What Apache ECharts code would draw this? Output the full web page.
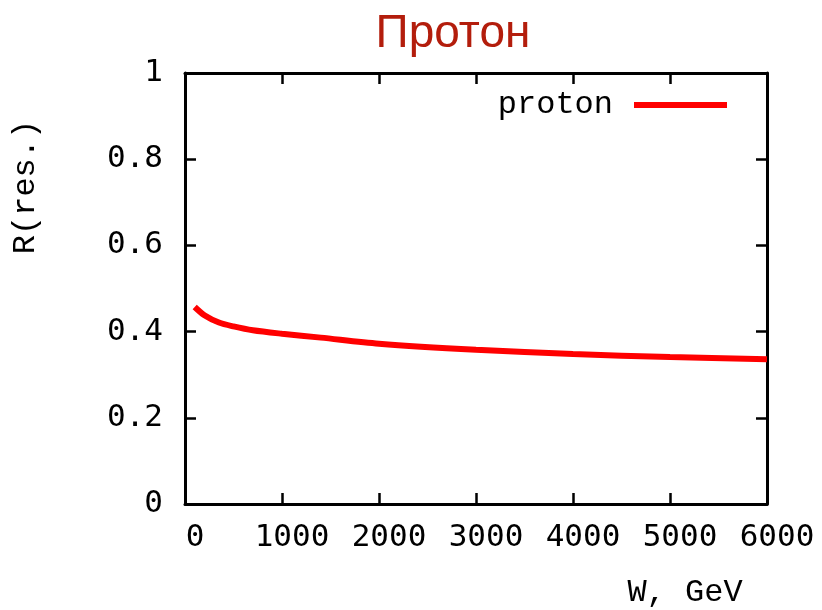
<!DOCTYPE html>
<html>
<head>
<meta charset="utf-8">
<script src="https://cdn.jsdelivr.net/npm/echarts@6/dist/echarts.min.js"></script>
<style>
  html, body { margin: 0; padding: 0; background: #fff; }
  #chart { width: 822px; height: 610px; }
</style>
</head>
<body>
<div id="chart"></div>
<script>
// W, GeV
const energies = [100, 200, 350, 500, 700, 1000, 1400, 2000, 3000, 4000, 5000, 6000]
// R(res.) for proton
const protonR = [0.457, 0.438, 0.421, 0.412, 0.403, 0.395, 0.386, 0.372, 0.358, 0.348, 0.341, 0.336]
const xTicks = [0, 1000, 2000, 3000, 4000, 5000, 6000]
const yTicks = [0, 0.2, 0.4, 0.6, 0.8, 1]

const myChart = echarts.init(document.getElementById('chart'))

const tickFont = 'DejaVu Sans Mono'
const textFont = 'Liberation Mono'

const axisCommon = {
  axisLine: { show: true, onZero: false, lineStyle: { color: '#000', width: 3 } },
  axisTick: { show: true, inside: true, length: 11, lineStyle: { color: '#000', width: 2.5 } },
  splitLine: { show: false }
}

const option = {
  backgroundColor: '#fff',
  animation: false,
  title: {
    text: 'Протон',
    left: 448,
    top: 6,
    textAlign: 'center',
    textStyle: {
      fontFamily: 'Liberation Sans',
      fontWeight: 'normal',
      fontSize: 46,
      color: '#b31d0c'
    }
  },
  legend: {
    right: 90,
    top: 84,
    align: 'right',
    icon: 'rect',
    itemWidth: 93,
    itemHeight: 6,
    textStyle: {
      fontFamily: textFont,
      fontSize: 32,
      color: '#000',
      padding: [0, 16, 0, 0]
    },
    data: ['proton']
  },
  grid: {
    left: 185,
    right: 55,
    top: 73,
    bottom: 106
  },
  xAxis: [
    Object.assign({
      type: 'value',
      position: 'bottom',
      min: 0,
      max: 6000,
      interval: 1000,
      axisLabel: {
        margin: 18,
        padding: [0, 0, 0, 20],
        fontFamily: tickFont,
        fontSize: 31,
        color: '#000',
        formatter: v => xTicks.includes(v) ? String(v) : ''
      }
    }, axisCommon),
    Object.assign({
      type: 'value',
      position: 'top',
      min: 0,
      max: 6000,
      interval: 1000,
      axisLabel: { show: false }
    }, axisCommon)
  ],
  yAxis: [
    Object.assign({
      type: 'value',
      position: 'left',
      min: 0,
      max: 1,
      interval: 0.2,
      axisLabel: {
        margin: 22,
        fontFamily: tickFont,
        fontSize: 31,
        color: '#000',
        formatter: v => {
          const t = yTicks.find(y => Math.abs(y - v) < 1e-9)
          return t === undefined ? '' : String(t)
        }
      }
    }, axisCommon),
    Object.assign({
      type: 'value',
      position: 'right',
      min: 0,
      max: 1,
      interval: 0.2,
      axisLabel: { show: false }
    }, axisCommon)
  ],
  graphic: [
    {
      type: 'text',
      x: 26,
      y: 187,
      rotation: Math.PI / 2,
      style: {
        text: 'R(res.)',
        fontFamily: textFont,
        fontSize: 32,
        fill: '#000',
        align: 'center',
        verticalAlign: 'middle'
      }
    },
    {
      type: 'text',
      x: 685,
      y: 593,
      style: {
        text: 'W, GeV',
        fontFamily: textFont,
        fontSize: 32,
        fill: '#000',
        align: 'center',
        verticalAlign: 'middle'
      }
    }
  ],
  series: [
    {
      name: 'proton',
      type: 'line',
      xAxisIndex: 0,
      yAxisIndex: 0,
      data: energies.map((w, i) => [w, protonR[i]]),
      smooth: 0.3,
      showSymbol: false,
      symbol: 'none',
      lineStyle: { color: '#ff0000', width: 6 },
      itemStyle: { color: '#ff0000' }
    }
  ]
}

myChart.setOption(option)
</script>
</body>
</html>
